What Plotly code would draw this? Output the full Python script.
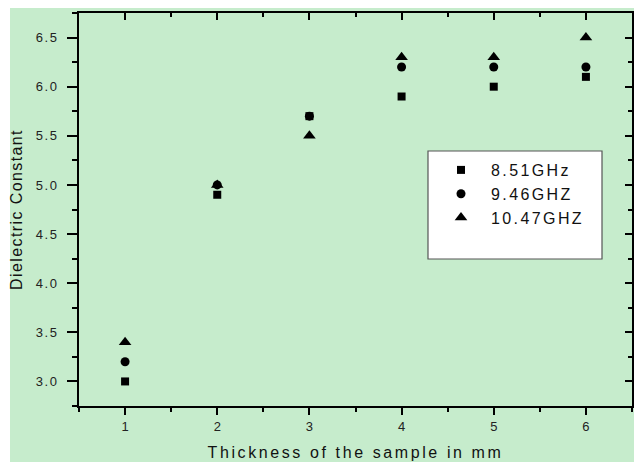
import plotly.graph_objects as go

thickness = [1, 2, 3, 4, 5, 6]
eps_851 = [3.0, 4.9, 5.7, 5.9, 6.0, 6.1]
eps_946 = [3.2, 5.0, 5.7, 6.2, 6.2, 6.2]
eps_1047 = [3.4, 5.0, 5.5, 6.3, 6.3, 6.5]
series_names = ["8.51GHz", "9.46GHZ", "10.47GHZ"]
y_ticks = [3.0, 3.5, 4.0, 4.5, 5.0, 5.5, 6.0, 6.5]

GREEN = "#C6ECCC"
FONT = "Liberation Sans, Arial, sans-serif"

def sp(t, ls=1.5):
    return f'<span style="letter-spacing:{ls}px">{t}</span>'

fig = go.Figure()
for name, vals, sym, size in [
    (series_names[0], eps_851, "square", 8),
    (series_names[1], eps_946, "circle", 9),
    (series_names[2], eps_1047, "triangle-up", 11),
]:
    fig.add_trace(go.Scatter(
        x=thickness, y=vals, mode="markers", name=sp(name, 2.4),
        marker=dict(symbol=sym, size=size, color="black"),
    ))

axis_common = dict(showline=True, linecolor="black", linewidth=2, showgrid=False,
                   zeroline=False, tickcolor="black", tickwidth=2, automargin=False,
                   tickfont=dict(family=FONT, size=13, color="#222"))

# plot-area pixel frame (page coords) used for paper-relative placement
PL, PR, PT, PB = 79, 632, 13, 406
def px(x): return (x - PL) / (PR - PL)
def py(y): return (PB - y) / (PB - PT)

# page body has an 8px default margin; figure is sized to fill the rest of the window
fig.update_layout(
    width=636, height=454,
    margin=dict(l=71, r=12, t=5, b=56),
    paper_bgcolor="white", plot_bgcolor=GREEN,
    font=dict(family=FONT, color="black"),
    xaxis=dict(range=[0.5, 6.5], tickmode="array", tickvals=thickness,
               ticktext=[str(v) for v in thickness],
               ticks="outside", ticklen=7,
               minor=dict(ticks="outside", ticklen=4, dtick=0.5, tick0=0.5,
                          tickcolor="black", tickwidth=2),
               title=dict(text=sp("Thickness of the sample in mm", 2.6),
                          font=dict(size=16, family=FONT, color="#111"), standoff=14),
               **axis_common),
    yaxis=dict(range=[2.75, 6.75], tickmode="array",
               tickvals=y_ticks,
               ticktext=[sp(f"{v:.1f}", 1.5) for v in y_ticks],
               ticks="outside", ticklen=10, ticklabelstandoff=6,
               minor=dict(ticks="outside", ticklen=5, dtick=0.25, tick0=2.75,
                          tickcolor="black", tickwidth=2),
               title=dict(text=sp("Dielectric Constant", 1.4),
                          font=dict(size=16, family=FONT, color="#111"), standoff=10),
               **axis_common),
    xaxis2=dict(overlaying="x", side="top", anchor="y", matches="x", range=[0.5, 6.5],
                tickmode="array", tickvals=thickness, showticklabels=False,
                ticks="inside", ticklen=7,
                minor=dict(ticks="inside", ticklen=4, dtick=0.5, tick0=0.5,
                           tickcolor="black", tickwidth=2),
                **axis_common),
    yaxis2=dict(overlaying="y", side="right", anchor="x", matches="y", range=[2.75, 6.75],
                tickmode="array", tickvals=y_ticks,
                showticklabels=False, ticks="inside", ticklen=7,
                minor=dict(ticks="inside", ticklen=4, dtick=0.25, tick0=2.75,
                           tickcolor="black", tickwidth=2),
                **axis_common),
    legend=dict(x=px(431), y=py(153), xanchor="left", yanchor="top",
                bgcolor="rgba(0,0,0,0)", borderwidth=0,
                font=dict(size=16, family=FONT, color="#111"),
                itemwidth=50, tracegroupgap=0),
    showlegend=True,
    shapes=[
        dict(type="rect", xref="paper", yref="paper", layer="below",
             x0=px(10), x1=px(634), y0=-0.2, y1=1.1,
             fillcolor=GREEN, line=dict(width=0)),
        dict(type="rect", xref="paper", yref="paper", layer="below",
             x0=px(428), x1=px(602), y0=py(259), y1=py(151),
             fillcolor="white", line=dict(width=1.2, color="#555")),
    ],
)
fig.add_trace(go.Scatter(x=[None], y=[None], xaxis="x2", yaxis="y2", showlegend=False, hoverinfo="skip"))

fig.write_html("out.html")
